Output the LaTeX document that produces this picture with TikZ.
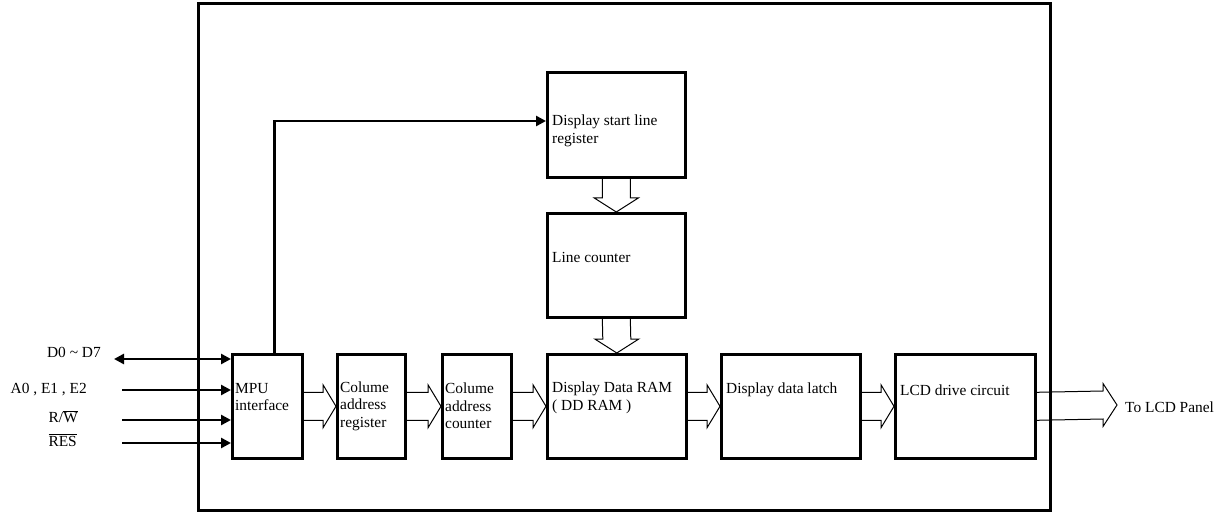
\documentclass[tikz,border=0pt]{standalone}
\usepackage{fontspec}
\setmainfont{Liberation Serif}
\usetikzlibrary{calc,arrows.meta}
\tikzset{
  blk/.style={draw, line width=2.6pt, minimum width=#1, minimum height=104pt, inner sep=0pt, anchor=north west},
  blk/.default=70pt,
  lbl/.style={anchor=west, inner sep=0pt, font=\fontsize{15.4}{17.5}\selectfont, align=left},
  sig/.style={line width=2.6pt, -{Triangle[length=10pt,width=10pt]}},
  sigboth/.style={line width=2.6pt, {Triangle[length=10pt,width=10pt]}-{Triangle[length=10pt,width=10pt]}},
  hollow/.style={draw, line width=1pt, line join=miter},
  frame/.style={draw, line width=3pt},
  txt/.style={inner sep=0pt, font=\fontsize{15.4}{17.5}\selectfont}
}
\newcommand{\hollowH}[2]{%
  \path[hollow] ($(#1.east)+(0,-14)$) -- ($(#2.west)+(-13,-14)$) -- ($(#2.west)+(-13,-21.5)$) -- (#2.west)
    -- ($(#2.west)+(-13,21.5)$) -- ($(#2.west)+(-13,14)$) -- ($(#1.east)+(0,14)$);}
\newcommand{\hollowV}[2]{%
  \path[hollow] ($(#1.south)+(-14,0)$) -- ($(#2.north)+(-14,-14)$) -- ($(#2.north)+(-22,-14)$) -- (#2.north)
    -- ($(#2.north)+(22,-14)$) -- ($(#2.north)+(14,-14)$) -- ($(#1.south)+(14,0)$);}
\begin{document}
\begin{tikzpicture}[x=1pt,y=-1pt]
\useasboundingbox (0,0) rectangle (1226,513);
% frame
\draw[frame] (198.5,4) rectangle (1050,510.5);
% blocks
\node[blk=70pt] (mpu) at (231,353) {};
\node[blk=68pt] (car) at (336,353) {};
\node[blk=69pt] (cac) at (441,353) {};
\node[blk=139pt] (ram) at (546,353) {};
\node[blk=139pt] (lat) at (720,353) {};
\node[blk=140pt] (lcd) at (894,353) {};
\node[blk=138pt, minimum height=105pt] (dsl) at (546,71) {};
\node[blk=138pt] (lc) at (546,212) {};
% block labels
\node[lbl] at ($(mpu.north west)+(4,44)$) {MPU\\interface};
\node[lbl] at ($(car.north west)+(4,53)$) {Colume\\address\\register};
\node[lbl] at ($(cac.north west)+(4,53)$) {Colume\\address\\counter};
\node[lbl] at ($(ram.north west)+(6,45)$) {Display Data RAM\\( DD RAM )};
\node[lbl] at ($(lat.north west)+(6,37)$) {Display data latch};
\node[lbl] at ($(lcd.north west)+(6,37)$) {LCD drive circuit};
\node[lbl] at ($(dsl.north west)+(6,60)$) {Display start line\\register};
\node[lbl] at ($(lc.north west)+(6,45)$) {Line counter};
% hollow bus arrows
\hollowH{mpu}{car}
\hollowH{car}{cac}
\hollowH{cac}{ram}
\hollowH{ram}{lat}
\hollowH{lat}{lcd}
\hollowV{dsl}{lc}
\hollowV{lc}{ram}
\coordinate (out) at (1117,405);
\path[hollow] ($(lcd.east)+(0,-14)$) -- ($(out)+(-14,-14)$) -- ($(out)+(-14,-21.5)$) -- (out)
    -- ($(out)+(-14,21.5)$) -- ($(out)+(-14,14)$) -- ($(lcd.east)+(0,14)$);
\node[txt, anchor=west] (panel) at (1125,407) {To LCD Panel};
% MPU to display start line register
\draw[sig] ($(mpu.north)+(7,0)$) |- (dsl.west |- 0,121);
% input signals
\coordinate (d0) at (114,359);
\coordinate (a0) at (122,390);
\coordinate (rw) at (122,420);
\coordinate (rs) at (122,443);
\draw[sigboth] (d0) -- (mpu.west |- d0);
\draw[sig] (a0) -- (mpu.west |- a0);
\draw[sig] (rw) -- (mpu.west |- rw);
\draw[sig] (rs) -- (mpu.west |- rs);
\node[txt, anchor=east] (ld0) at (101,352) {D0 \char`\~{} D7};
\node[txt, anchor=east] (la0) at (87,390) {A0 , E1 , E2};
\node[txt, anchor=east] (lrw) at (78,417) {R/$\overline{\hbox{W}}$};
\node[txt, anchor=east] (lrs) at (77,440) {$\overline{\hbox{RES}}$};
\end{tikzpicture}
\end{document}
